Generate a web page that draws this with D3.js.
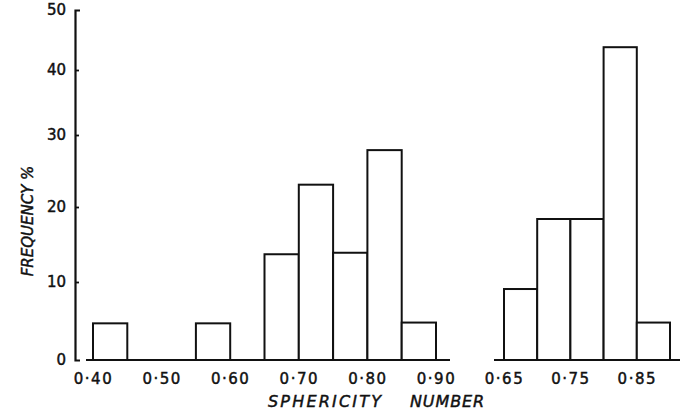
<!DOCTYPE html>
<html>
<head>
<meta charset="utf-8">
<script src="https://cdn.jsdelivr.net/npm/d3@7/dist/d3.min.js"></script>
<style>
  html, body { margin: 0; padding: 0; background: #fff; }
  svg { display: block; }
  text { font-family: "DejaVu Sans", sans-serif; fill: #111; stroke: #111; stroke-width: 0.45px; }
</style>
</head>
<body>
<svg id="chart" width="680" height="414"></svg>
<script>
// ---- data ----
const yTickValues = [0, 10, 20, 30, 40, 50];
const binWidth = 0.05;
const leftBins  = [0.40, 0.45, 0.50, 0.55, 0.60, 0.65, 0.70, 0.75, 0.80, 0.85];
const leftFreq  = [4.7, 0, 0, 4.7, 0, 13.7, 23.1, 13.9, 27.9, 4.8];
const rightBins = [0.65, 0.70, 0.75, 0.80, 0.85];
const rightFreq = [9.1, 18.4, 18.4, 43.8, 4.8];
const leftTickLabels  = [0.40, 0.50, 0.60, 0.70, 0.80, 0.90];
const rightTickLabels = [0.65, 0.75, 0.85];
const yTitle = "FREQUENCY %";
const xTitleA = "SPHERICITY";
const xTitleB = "NUMBER";

// ---- layout ----
const svg = d3.select("#chart");
const ink = "#111";
const baseY = 360;
const axisX = 75;

// hand-drawn axis: spacing of tens shrinks slightly towards the top
const y = d3.scaleLinear().domain(yTickValues).range([baseY, 282, 207, 135, 70, 10]);
const xL = d3.scaleLinear().domain([0.40, 0.90]).range([93, 436]);
const xR = d3.scaleLinear().domain([0.65, 0.90]).range([504, 670]);

const fmt = d => "0·" + d3.format(".2f")(d).slice(2);

// y axis
const yAxis = d3.axisLeft(y)
  .tickValues(yTickValues.slice(1, 5))
  .tickSizeInner(-4)
  .tickSizeOuter(-5)
  .tickPadding(9)
  .tickFormat(d3.format("d"));
const gy = svg.append("g").attr("transform", `translate(${axisX},0)`).call(yAxis);
gy.select(".domain").attr("stroke", ink).attr("stroke-width", 2.2).attr("fill", "none");
gy.selectAll(".tick line").attr("stroke", ink).attr("stroke-width", 1.8);
gy.selectAll("text").attr("font-size", 15).attr("fill", ink).attr("font-family", "DejaVu Sans");
// end labels 0 and 50
gy.selectAll(".endlabel").data([yTickValues[0], yTickValues[5]]).enter().append("text")
  .attr("class", "endlabel")
  .attr("x", -9).attr("y", d => y(d)).attr("dy", "0.32em")
  .attr("text-anchor", "end").attr("font-size", 15)
  .text(d3.format("d"));

// baselines
function baseline(scale, padL, padR) {
  const r = scale.range();
  svg.append("line")
    .attr("x1", r[0] - padL).attr("x2", r[1] + padR)
    .attr("y1", baseY).attr("y2", baseY)
    .attr("stroke", ink).attr("stroke-width", 2.2);
}
baseline(xL, 7, 14);
baseline(xR, 10, 10);

// bars
function bars(scale, bins, freq) {
  const data = bins.map((b, i) => ({ b, v: freq[i] })).filter(d => d.v > 0);
  svg.append("g").selectAll("rect").data(data).enter().append("rect")
    .attr("x", d => scale(d.b))
    .attr("width", d => scale(d.b + binWidth) - scale(d.b))
    .attr("y", d => y(d.v))
    .attr("height", d => y(0) - y(d.v))
    .attr("fill", "#fff")
    .attr("stroke", ink)
    .attr("stroke-width", 2);
}
bars(xL, leftBins, leftFreq);
bars(xR, rightBins, rightFreq);

// x tick labels
function xLabels(scale, vals) {
  const ax = d3.axisBottom(scale).tickValues(vals).tickSize(0).tickPadding(13).tickFormat(fmt);
  const g = svg.append("g").attr("transform", `translate(0,${baseY})`).call(ax);
  g.select(".domain").remove();
  g.selectAll("text").attr("font-size", 15).attr("fill", ink)
    .attr("font-family", "DejaVu Sans").style("letter-spacing", "1.5px");
}
xLabels(xL, leftTickLabels);
xLabels(xR, rightTickLabels);

// titles
svg.append("text")
  .attr("transform", `translate(33,221) rotate(-90)`)
  .attr("text-anchor", "middle")
  .attr("font-size", 15).attr("font-style", "italic")
  .style("letter-spacing", "0px")
  .text(yTitle);
svg.append("text")
  .attr("x", 268).attr("y", 407)
  .attr("font-size", 16).attr("font-style", "italic")
  .style("letter-spacing", "2.2px")
  .text(xTitleA);
svg.append("text")
  .attr("x", 410).attr("y", 407)
  .attr("font-size", 16).attr("font-style", "italic")
  .style("letter-spacing", "0.9px")
  .text(xTitleB);
</script>
</body>
</html>
